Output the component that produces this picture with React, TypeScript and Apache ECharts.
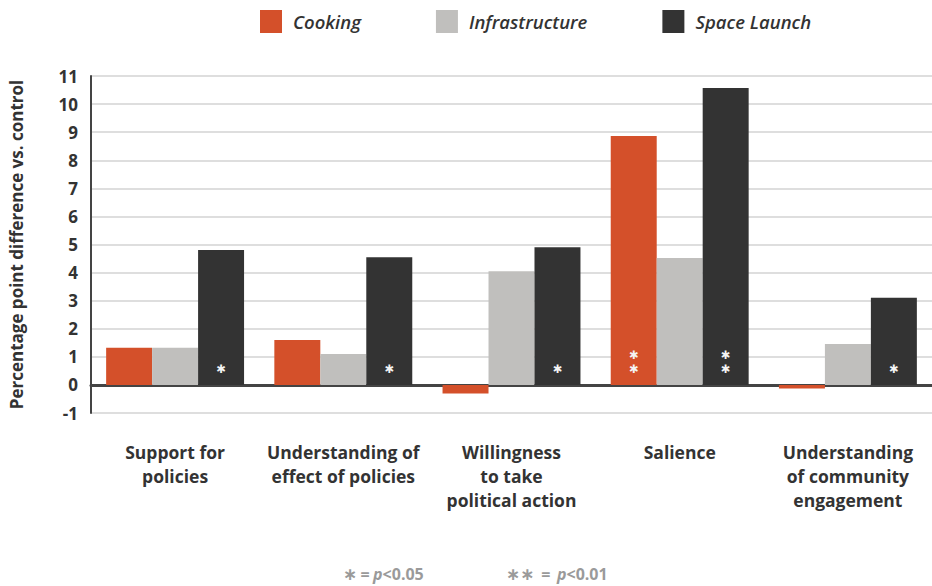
import React, { useEffect, useRef } from "react";
import * as echarts from "echarts";

const categories = [
  "Support for\npolicies",
  "Understanding of\neffect of policies",
  "Willingness\nto take\npolitical action",
  "Salience",
  "Understanding\nof community\nengagement",
];
const seriesNames = ["Cooking", "Infrastructure", "Space Launch"];
const cooking = [1.32, 1.6, -0.31, 8.86, -0.13];
const infrastructure = [1.32, 1.1, 4.05, 4.52, 1.46];
const spaceLaunch = [4.8, 4.55, 4.9, 10.57, 3.1];
const cookingSig = ["", "", "", "**", ""];
const infrastructureSig = ["", "", "", "", ""];
const spaceLaunchSig = ["*", "*", "*", "**", "*"];
const colors = ["#d4502a", "#c0bfbd", "#333333"];
const yMin = -1;
const yMax = 11;
const yInterval = 1;

const FONT = "'Open Sans', 'Noto Sans', sans-serif";

function makeSeries(name: string, values: number[], sig: string[], color: string) {
  return {
    name,
    type: "bar",
    barGap: "0%",
    barCategoryGap: "18%",
    itemStyle: { color },
    data: values.map((v, i) => ({
      value: v,
      label: {
        show: sig[i] !== "",
        position: "insideBottom",
        distance: 9,
        formatter: sig[i].split("").map(() => "✱").join("\n"),
        color: "#f4f4f4",
        fontSize: 11.5,
        lineHeight: 14,
        fontFamily: "'DejaVu Sans', sans-serif",
      },
    })),
  };
}

const gray = "#9a9a9a";
const noteRich = {
  a: { fontSize: 17, fill: gray, fontWeight: "bold", fontFamily: "DejaVu Sans" },
  b: { fontSize: 16, fill: gray, fontWeight: "bold", fontFamily: FONT },
  c: { fontSize: 16, fill: gray, fontWeight: "bold", fontStyle: "italic", fontFamily: FONT },
};

export default function App() {
  const ref = useRef<HTMLDivElement>(null);
  useEffect(() => {
    if (!ref.current) return;
    const chart = echarts.init(ref.current, null, { renderer: "svg" });
    chart.setOption({
      animation: false,
      textStyle: { fontFamily: FONT },
      legend: {
        left: 255,
        top: 5,
        itemWidth: 22,
        itemHeight: 23,
        itemGap: 75,
        icon: "rect",
        textStyle: {
          fontSize: 18.5,
          fontStyle: "italic",
          fontWeight: 600,
          color: "#333",
          fontFamily: FONT,
          padding: [0, 0, 0, 6],
        },
        data: seriesNames,
      },
      grid: { left: 91, right: -4, top: 76, bottom: 173 },
      xAxis: {
        type: "category",
        data: categories,
        axisLine: { onZero: true, lineStyle: { color: "#444", width: 3 } },
        axisTick: { show: false },
        axisLabel: {
          margin: 27,
          fontSize: 17.5,
          fontWeight: "bold",
          color: "#333",
          lineHeight: 24,
          fontFamily: FONT,
          interval: 0,
        },
      },
      yAxis: {
        type: "value",
        min: yMin,
        max: yMax,
        interval: yInterval,
        name: "Percentage point difference vs. control",
        nameLocation: "middle",
        nameGap: 66,
        nameTextStyle: { fontSize: 17, fontWeight: "bold", color: "#333", fontFamily: FONT },
        axisLine: { show: true, lineStyle: { color: "#444", width: 2 } },
        axisTick: { show: false },
        axisLabel: { fontSize: 17, fontWeight: "bold", color: "#333", margin: 13, fontFamily: FONT },
        splitLine: { lineStyle: { color: "#d3d3d3", width: 1.5 } },
      },
      series: [
        makeSeries(seriesNames[0], cooking, cookingSig, colors[0]),
        makeSeries(seriesNames[1], infrastructure, infrastructureSig, colors[1]),
        makeSeries(seriesNames[2], spaceLaunch, spaceLaunchSig, colors[2]),
      ],
      graphic: [
        {
          type: "text",
          left: 343,
          top: 565,
          style: { text: "{a|∗} {b|=} {c|p}{b|<0.05}", rich: noteRich },
        },
        {
          type: "text",
          left: 506,
          top: 565,
          style: { text: "{a|∗∗}  {b|=}  {c|p}{b|<0.01}", rich: noteRich },
        },
      ],
    });
    return () => chart.dispose();
  }, []);
  return (
    <div
      ref={ref}
      style={{ position: "absolute", left: 0, top: 0, width: 932, height: 586, background: "#fff" }}
    />
  );
}
